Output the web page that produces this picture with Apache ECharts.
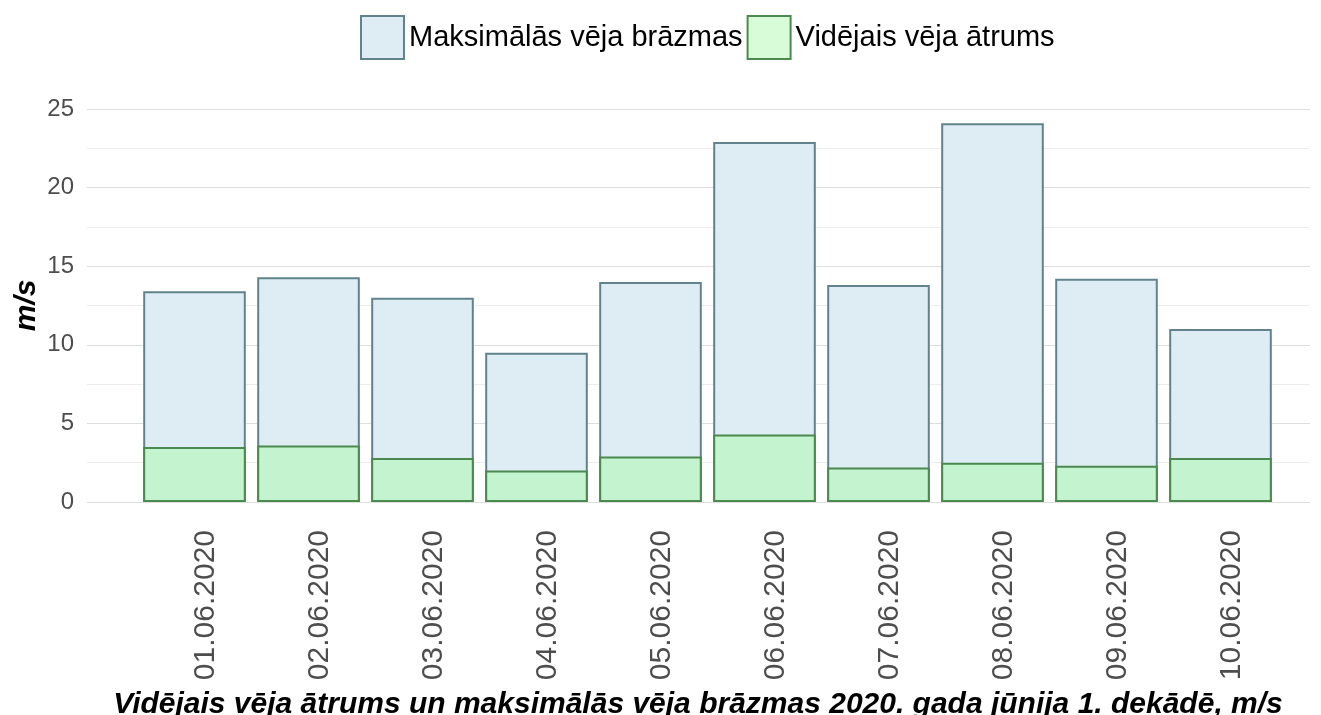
<!DOCTYPE html>
<html>
<head>
<meta charset="utf-8">
<script src="https://cdn.jsdelivr.net/npm/echarts@6/dist/echarts.min.js"></script>
<style>
html, body { margin: 0; padding: 0; background: #fff; }
#chart { width: 1321px; height: 715px; }
</style>
</head>
<body>
<div id="chart"></div>
<script>
// dati
const dates = ['01.06.2020', '02.06.2020', '03.06.2020', '04.06.2020', '05.06.2020',
    '06.06.2020', '07.06.2020', '08.06.2020', '09.06.2020', '10.06.2020'];
const maxGusts = [13.4, 14.3, 13.0, 9.5, 14.0, 22.9, 13.8, 24.1, 14.2, 11.0];
const avgSpeed = [3.5, 3.6, 2.8, 2.0, 2.9, 4.3, 2.2, 2.5, 2.3, 2.8];
const yTicks = [0, 5, 10, 15, 20, 25];

const FONT = '"Liberation Sans", Arial, sans-serif';

let myChart = echarts.init(document.getElementById('chart'));

myChart.setOption({
    backgroundColor: '#ffffff',
    animation: false,
    title: {
        text: 'Vidējais vēja ātrums un maksimālās vēja brāzmas 2020. gada jūnija 1. dekādē, m/s',
        left: 693,
        top: 685,
        textAlign: 'center',
        textStyle: {
            fontFamily: FONT,
            fontSize: 30,
            fontWeight: 'bold',
            fontStyle: 'italic',
            color: '#000'
        }
    },
    legend: {
        left: 355,
        top: 10,
        itemWidth: 43,
        itemHeight: 43,
        itemGap: 4,
        icon: 'rect',
        textStyle: {
            fontFamily: FONT,
            fontSize: 29,
            color: '#000'
        },
        data: [
            { name: 'Maksimālās vēja brāzmas', itemStyle: { color: '#deedf4', borderColor: '#62838c', borderWidth: 2 } },
            { name: 'Vidējais vēja ātrums', itemStyle: { color: '#d8fcd8', borderColor: '#4a8a4e', borderWidth: 2 } }
        ]
    },
    grid: [
        { left: 87, right: 11, top: 109, bottom: 213, outerBoundsMode: 'none' },
        { left: 137.5, right: 43.5, top: 109, bottom: 213, outerBoundsMode: 'none' }
    ],
    xAxis: [
        { gridIndex: 0, type: 'category', data: dates, show: false },
        {
            gridIndex: 1,
            type: 'category',
            data: dates,
            axisLine: { show: false },
            axisTick: { show: false },
            axisLabel: {
                rotate: 90,
                margin: 28,
                fontFamily: FONT,
                fontSize: 30,
                color: '#4d4d4d',
                verticalAlign: 'top',
                lineHeight: 22
            }
        }
    ],
    yAxis: [
        {
            gridIndex: 0,
            type: 'value',
            min: yTicks[0],
            max: yTicks[yTicks.length - 1],
            interval: 5,
            name: 'm/s',
            nameLocation: 'middle',
            nameGap: 45,
            nameMoveOverlap: false,
            nameTextStyle: {
                fontFamily: FONT,
                fontSize: 30,
                fontWeight: 'bold',
                fontStyle: 'italic',
                color: '#000'
            },
            axisLine: { show: false },
            axisTick: { show: false },
            axisLabel: {
                margin: 13,
                fontFamily: FONT,
                fontSize: 24,
                color: '#4d4d4d'
            },
            splitLine: { show: true, lineStyle: { color: '#dedede', width: 1.2 } },
            minorTick: { show: false, splitNumber: 2 },
            minorSplitLine: { show: true, lineStyle: { color: '#ececec', width: 1 } }
        },
        {
            gridIndex: 1,
            type: 'value',
            min: yTicks[0],
            max: yTicks[yTicks.length - 1],
            show: false,
            splitLine: { show: false }
        }
    ],
    series: [
        {
            name: 'Maksimālās vēja brāzmas',
            type: 'bar',
            xAxisIndex: 1,
            yAxisIndex: 1,
            barCategoryGap: '10%',
            barGap: '-100%',
            itemStyle: { color: '#deedf4', borderColor: '#62838c', borderWidth: 2 },
            data: maxGusts
        },
        {
            name: 'Vidējais vēja ātrums',
            type: 'bar',
            xAxisIndex: 1,
            yAxisIndex: 1,
            barCategoryGap: '10%',
            barGap: '-100%',
            itemStyle: { color: '#c3f3cf', borderColor: '#4a8a4e', borderWidth: 2 },
            data: avgSpeed
        }
    ]
});

window.addEventListener('resize', function () {
    myChart.resize();
});
</script>
</body>
</html>
